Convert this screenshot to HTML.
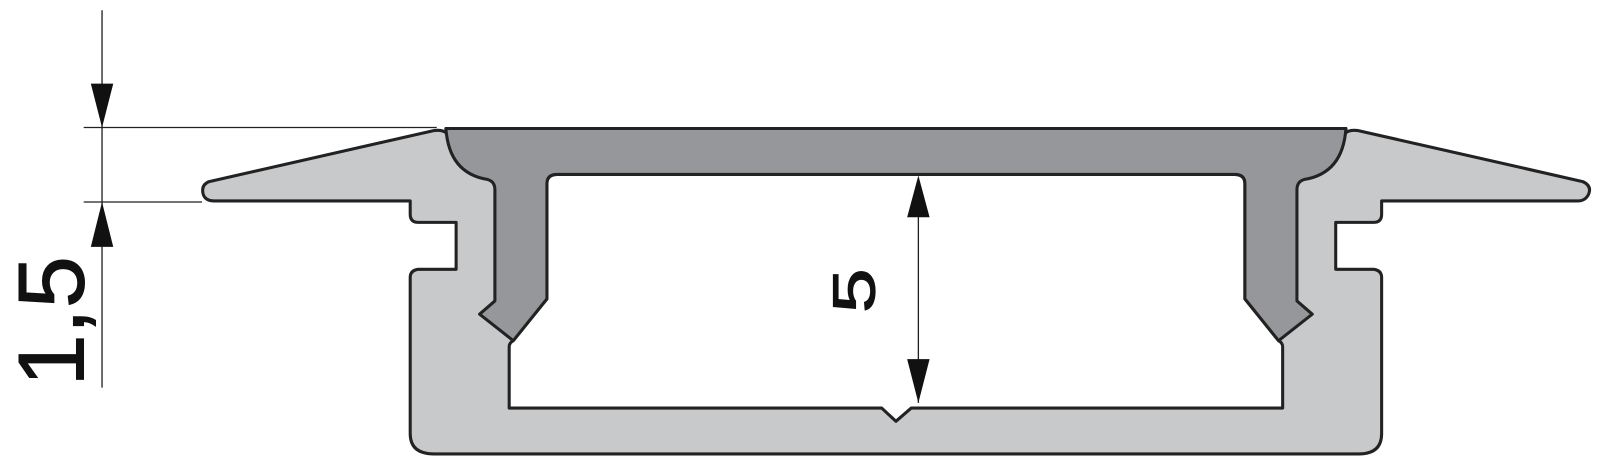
<!DOCTYPE html>
<html><head><meta charset="utf-8"><style>
html,body{margin:0;padding:0;background:#fff;}
svg{display:block;}
</style></head><body>
<svg width="1600" height="457" viewBox="0 0 1568 448" preserveAspectRatio="none" xmlns="http://www.w3.org/2000/svg">
<g stroke="#222" stroke-width="3" stroke-linejoin="round">
<path fill="#c8c9cb" d="M205,178 L425,128 Q433,127 437,130 L437,126 L1319,126 L1319,130 Q1323,127 1331,128 L1551,178 Q1560,182 1557,190 Q1554,197 1546,197 L1354,197 L1354,210 Q1354,218 1346,218 L1309,218 L1309,264 L1346,264 Q1354,265 1354,272 L1354,425 Q1354,445 1332,445 L425,445 Q402,445 402,425 L402,272 Q402,265 410,264 L447,264 L447,218 L410,218 Q402,218 402,210 L402,197 L210,197 Q201,197 199,190 Q197,181 205,178 Z"/>
<path fill="#fff" d="M499,400 L499,340 Q499,336 503,334 L536,293 L536,180 Q536,171 546,171 L1210,171 Q1220,171 1220,180 L1220,293 L1253,334 Q1257,336 1257,340 L1257,400 L893,400 L878,413 L864,400 Z"/>
<path fill="#96979a" d="M437,126 L1319,126 Q1316,170 1278,176 Q1271,178 1271,186 L1271,295 L1286,308 L1253,334 L1220,293 L1220,180 Q1220,171 1210,171 L546,171 Q536,171 536,180 L536,293 L503,334 L470,308 L485,295 L485,186 Q485,178 478,176 Q440,170 437,126 Z"/>
</g>
<g stroke="#222" stroke-width="1.3" fill="none">
<line x1="100" y1="10" x2="100" y2="380"/>
<line x1="82" y1="125" x2="428" y2="125"/>
<line x1="82" y1="198" x2="198" y2="198"/>
<line x1="900" y1="175" x2="900" y2="395"/>
</g>
<g fill="#111">
<polygon points="89,82 111,82 100,125"/>
<polygon points="89,242 111,242 100,198"/>
<polygon points="889,213 911,213 900,172"/>
<polygon points="889,352 911,352 900,395"/>
</g>
<g font-family="Liberation Sans, sans-serif" fill="#111">
<text x="0" y="0" font-size="58" text-anchor="middle" transform="translate(857,285) rotate(-90) scale(1.35,1)" stroke="#111" stroke-width="1.2">5</text>
<text x="0" y="0" font-size="92" text-anchor="middle" transform="translate(82,315) rotate(-90)" stroke="#111" stroke-width="1">1,5</text>
</g>
</svg>
</body></html>
